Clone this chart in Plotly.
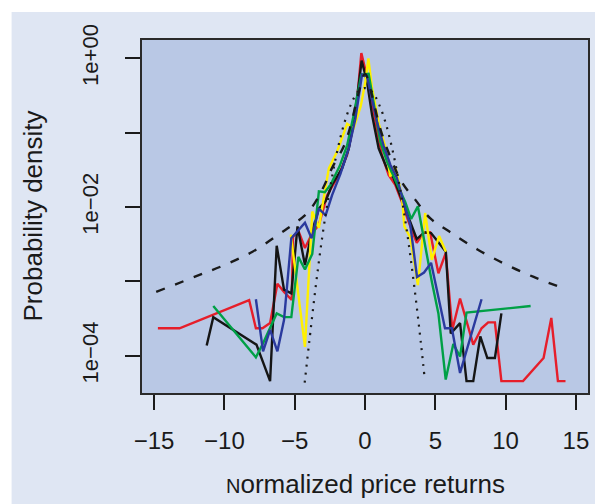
import numpy as np
import plotly.graph_objects as go

# ---- data (x = normalized return, values = log10 of probability density) ----
red_x = [-14.73, -13.19, -8.24, -7.76, -7.29, -6.75, -6.23, -5.76, -5.21, -5.12, -4.74, -4.27, -3.75, -3.28,
         -2.69, -1.86, -1.27, -0.92, -0.57, -0.26, 0.03, 0.38, 0.74, 1.20, 1.68, 2.15, 2.62, 3.10, 3.68,
         4.16, 4.63, 5.22, 5.74, 6.21, 6.76, 7.70, 8.29, 8.76, 9.24, 9.70, 11.24, 12.70, 13.25, 13.72, 14.26]
red_log = [-3.63, -3.63, -3.25, -3.63, -3.63, -3.56, -3.03, -3.14, -3.25, -2.40, -2.32, -2.55, -2.35, -2.24,
           -1.84, -1.57, -1.30, -0.99, -0.58, 0.07, -0.16, -0.45, -0.85, -1.30, -1.57, -1.70, -1.93, -2.20, -2.48,
           -2.35, -2.34, -2.89, -2.62, -3.65, -3.23, -3.85, -3.63, -3.55, -3.55, -4.34, -4.34, -4.03, -3.49, -4.34, -4.34]

black_x = [-11.26, -10.79, -7.72, -6.75, -6.28, -5.76, -5.24, -4.80, -4.27, -3.80, -3.28, -2.80, -2.34, -1.63,
           -1.15, -0.80, -0.45, -0.24, 0.14, 0.50, 0.97, 1.56, 2.03, 2.50, 3.10, 3.68, 4.23, 4.70, 5.75, 6.10,
           6.76, 7.22, 7.70, 8.20, 8.70, 9.24, 9.70]
black_log = [-3.86, -3.48, -3.85, -4.34, -2.52, -3.11, -3.16, -2.26, -2.78, -2.35, -2.02, -1.92, -1.70, -1.48,
             -1.21, -0.85, -0.36, -0.03, -0.31, -0.76, -1.21, -1.48, -1.61, -1.84, -2.15, -2.43, -2.34, -2.35, -2.60, -3.70,
             -3.56, -4.34, -4.34, -3.74, -4.03, -4.03, -3.43]

yellow_x = [-5.28, -4.27, -3.75, -3.28, -2.92, -2.57, -1.98, -1.27, -0.80, -0.30, 0.03, 0.24, 0.50, 0.97,
            1.45, 1.80, 2.15, 2.62, 2.80, 3.22, 3.76, 4.28, 4.75, 5.27, 5.75]
yellow_log = [-2.37, -3.88, -2.06, -2.28, -1.86, -1.48, -1.25, -0.88, -0.94, -0.64, -0.31, 0.00, -0.40, -0.87,
              -1.20, -1.59, -1.46, -1.85, -2.26, -2.41, -3.05, -2.08, -2.71, -2.39, -2.60]

green_x = [-10.79, -7.76, -7.25, -6.28, -5.76, -5.24, -4.74, -4.27, -3.75, -3.28, -2.86, -2.45, -1.80, -1.27,
           -0.80, -0.26, 0.26, 0.62, 1.09, 1.56, 2.39, 2.86, 3.28, 3.76, 4.75, 5.22, 5.74, 6.28, 6.76, 7.22, 11.78]
green_log = [-3.33, -4.02, -3.83, -3.43, -3.48, -3.48, -2.67, -2.84, -2.63, -1.79, -1.80, -1.70, -1.45, -1.17,
             -0.76, -0.22, -0.21, -0.63, -1.12, -1.39, -1.75, -1.93, -2.16, -1.99, -3.00, -3.43, -4.32, -3.84, -4.01, -3.42, -3.33]

blue_x = [-7.76, -7.25, -6.75, -6.23, -5.76, -5.24, -4.27, -3.80, -3.28, -2.80, -2.34, -1.74, -1.15, -0.68,
          -0.21, 0.14, 0.85, 1.32, 1.80, 2.27, 2.74, 3.22, 3.70, 4.20, 4.70, 5.69, 6.18, 6.76, 8.29]
blue_log = [-3.24, -3.94, -3.65, -3.94, -3.52, -2.42, -2.21, -2.42, -2.02, -2.11, -1.84, -1.55, -1.21, -0.81,
            -0.22, -0.24, -0.85, -1.17, -1.43, -1.61, -1.93, -2.24, -2.94, -2.88, -2.75, -3.63, -3.63, -4.23, -3.24]

# reference curves
dashed_x = [-14.85, -12, -10, -8, -6, -5, -4, -3, -2.36, -1.5, -1, -0.5, 0, 0.5, 1, 1.5, 2.6, 3.57, 4.63,
            6, 8, 10, 12, 14.07]
dashed_log = [-3.14, -2.93, -2.78, -2.60, -2.35, -2.22, -2.06, -1.75, -1.48, -1.18, -0.89, -0.50, -0.21, -0.50,
              -0.89, -1.18, -1.66, -1.90, -2.15, -2.33, -2.57, -2.77, -2.94, -3.09]

dotted_x = [-4.29, -4.0, -3.5, -3.0, -2.5, -2.0, -1.5, -1.0, -0.5, 0, 0.5, 1.0, 1.5, 2.0, 2.5, 3.0, 3.5, 4.0, 4.23]
dotted_log = [-4.36, -3.87, -3.06, -2.35, -1.76, -1.27, -0.89, -0.62, -0.45, -0.40, -0.45, -0.62, -0.89, -1.27,
              -1.76, -2.35, -3.06, -3.87, -4.28]

x_ticks = [-15, -10, -5, 0, 5, 10, 15]
y_tickvals = [1, 1e-1, 1e-2, 1e-3, 1e-4]
y_ticktext = ["1e+00", "", "1e\u221202", "", "1e\u221204"]

series = [
    (red_x, red_log, "#e61e2a"),
    (black_x, black_log, "#151515"),
    (yellow_x, yellow_log, "#fff000"),
    (green_x, green_log, "#00a046"),
    (blue_x, blue_log, "#2a3a9e"),
]

fig = go.Figure()
for xs, ls, col in series:
    fig.add_trace(go.Scatter(x=xs, y=np.power(10.0, ls), mode="lines",
                             line=dict(color=col, width=2.4), showlegend=False))

fig.add_trace(go.Scatter(x=dashed_x, y=np.power(10.0, dashed_log), mode="lines",
                         line=dict(color="#1a1a1a", width=2.4, dash="9px,11px", shape="spline"),
                         showlegend=False))
fig.add_trace(go.Scatter(x=dotted_x, y=np.power(10.0, dotted_log), mode="lines",
                         line=dict(color="#1a1a1a", width=2.2, dash="2px,6px", shape="spline"),
                         showlegend=False))

FONT = "Liberation Sans, Arial, sans-serif"
W, H = 595, 504
L, R, T, B = 142, 5, 40, 111
pw, ph = W - L - R, H - T - B

def px_x(p):
    return (p - L) / pw

def px_y(q):
    return 1 - (q - T) / ph

fig.update_layout(
    width=W, height=H,
    margin=dict(l=L, r=R, t=T, b=B, pad=0),
    paper_bgcolor="#dfe6f3",
    plot_bgcolor="#b9c8e5",
    font=dict(family=FONT, size=22, color="#1a1a1a"),
    xaxis=dict(range=[-15.86, 15.86], tickvals=x_ticks, ticks="outside", ticklen=15, tickwidth=2,
               tickcolor="#1a1a1a", showline=True, mirror=True, linewidth=2, linecolor="#2a2a2a",
               showgrid=False, zeroline=False, ticklabelstandoff=10,
               tickfont=dict(family=FONT, size=24, color="#1a1a1a")),
    yaxis=dict(type="log", range=[-4.50, 0.246], tickvals=y_tickvals, ticktext=y_ticktext,
               ticks="outside", ticklen=15, tickwidth=2, tickcolor="#1a1a1a", tickangle=-90,
               showline=True, mirror=True, linewidth=2, linecolor="#2a2a2a",
               showgrid=False, zeroline=False, ticklabelstandoff=18,
               tickfont=dict(family=FONT, size=22, color="#1a1a1a")),
    shapes=[
        dict(type="rect", xref="paper", yref="paper", x0=px_x(0), x1=px_x(W + 5), y0=px_y(12), y1=px_y(-5),
             fillcolor="white", line=dict(width=0), layer="above"),
        dict(type="rect", xref="paper", yref="paper", x0=px_x(-5), x1=px_x(11), y0=px_y(H + 5), y1=px_y(0),
             fillcolor="white", line=dict(width=0), layer="above"),
    ],
    annotations=[
        dict(text="Probability density", xref="paper", yref="paper", x=px_x(33), y=px_y(216),
             xanchor="center", yanchor="middle", textangle=-90, showarrow=False,
             font=dict(family=FONT, size=26, color="#1a1a1a")),
        dict(text="<span style='font-size:20px'>N</span>ormalized price returns", xref="paper", yref="paper",
             x=px_x(366), y=px_y(484), xanchor="center", yanchor="middle", showarrow=False,
             font=dict(family=FONT, size=26, color="#1a1a1a")),
    ],
)

fig.write_html("out.html")
